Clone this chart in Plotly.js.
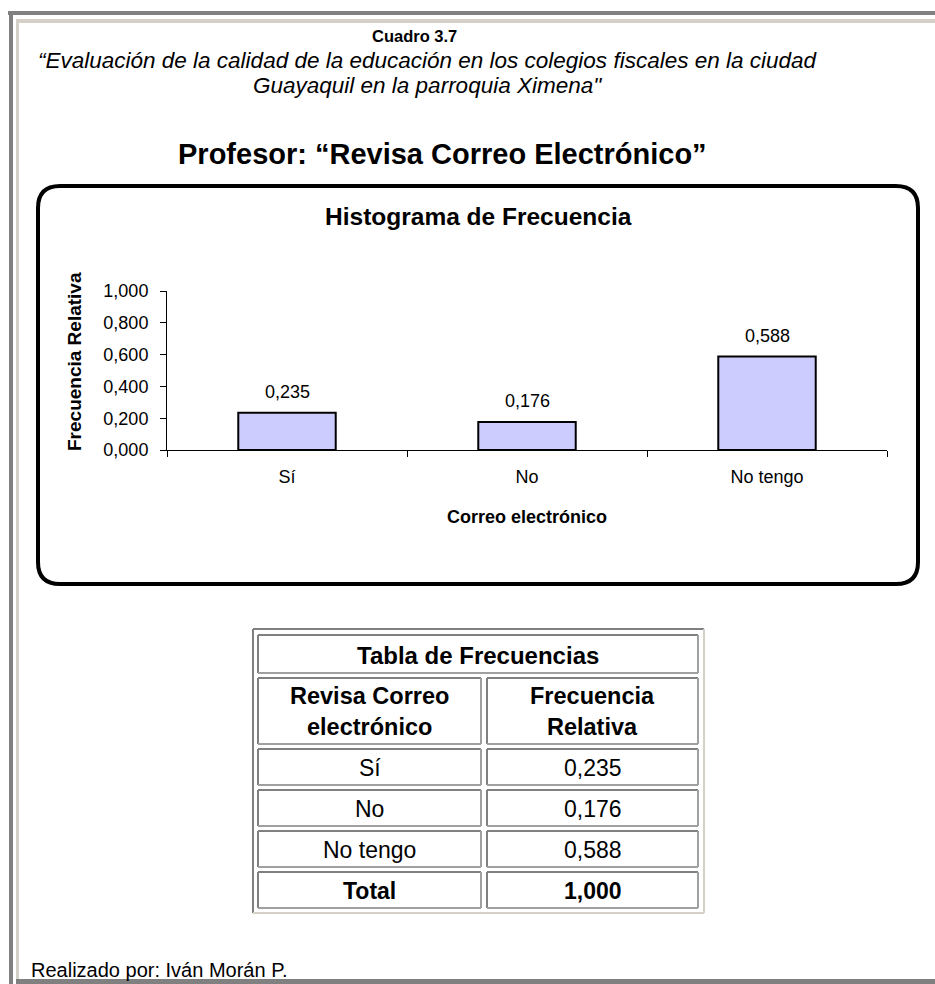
<!DOCTYPE html>
<html>
<head>
<meta charset="utf-8">
<script src="https://cdn.plot.ly/plotly-3.0.1.min.js"></script>
<style>
  html, body { margin: 0; padding: 0; background: #ffffff; }
  #chart { width: 935px; height: 984px; }
</style>
</head>
<body>
<div id="chart"></div>
<script>
// ---- Data ----
const categories = ["Sí", "No", "No tengo"];
const relFreq = [0.235, 0.176, 0.588];
const yTickValues = [0, 0.2, 0.4, 0.6, 0.8, 1.0];
const tableTitle = "Tabla de Frecuencias";
const tableHeaders = ["Revisa Correo<br>electrónico", "Frecuencia<br>Relativa"];
const totalLabel = "Total";
const totalValue = 1.000;
const cuadroTitle = "Cuadro 3.7";
const subtitleLines = ["“Evaluación de la calidad de la educación en los colegios fiscales en la ciudad",
                       "Guayaquil en la parroquia Ximena\""];
const mainTitle = "Profesor: “Revisa Correo Electrónico”";
const chartTitle = "Histograma de Frecuencia";
const xTitle = "Correo electrónico";
const yTitle = "Frecuencia Relativa";
const footer = "Realizado por: Iván Morán P.";

// ---- helpers (pixel -> paper) ----
const W = 935, H = 984;
const X = v => v / W;
const Y = v => 1 - v / H;
const FONT = "Liberation Sans, Arial, Helvetica, sans-serif";
const fmt = v => v.toFixed(3).replace(".", ",");

function rectPx(x0, y0, x1, y1, fill, line, lw) {
  return { type: "rect", xref: "paper", yref: "paper", layer: "below",
    x0: X(x0), x1: X(x1), y0: Y(y1), y1: Y(y0),
    fillcolor: fill || "rgba(0,0,0,0)",
    line: { color: line || "rgba(0,0,0,0)", width: lw || 0 } };
}
function linePx(x0, y0, x1, y1, color, lw) {
  return { type: "line", xref: "paper", yref: "paper", layer: "above",
    x0: X(x0), x1: X(x1), y0: Y(y0), y1: Y(y1),
    line: { color: color, width: lw } };
}
function roundedPath(x0, y0, x1, y1, r) {
  const p = (x, y) => X(x).toFixed(5) + "," + Y(y).toFixed(5);
  return "M" + p(x0 + r, y0) + " L" + p(x1 - r, y0) + " Q" + p(x1, y0) + " " + p(x1, y0 + r) +
    " L" + p(x1, y1 - r) + " Q" + p(x1, y1) + " " + p(x1 - r, y1) +
    " L" + p(x0 + r, y1) + " Q" + p(x0, y1) + " " + p(x0, y1 - r) +
    " L" + p(x0, y0 + r) + " Q" + p(x0, y0) + " " + p(x0 + r, y0) + " Z";
}
function textPx(x, y, text, size, opts) {
  return Object.assign({ xref: "paper", yref: "paper", x: X(x), y: Y(y),
    xanchor: "center", yanchor: "middle", showarrow: false, text: text,
    font: { family: FONT, size: size, color: "#000" } }, opts || {});
}

const shapes = [];
const annotations = [];

// page frame
shapes.push(rectPx(8, 11, 935, 15, "#808080"));
shapes.push(rectPx(9, 11, 13, 984, "#808080"));
shapes.push(rectPx(16, 19, 935, 23, "#d4d0c8"));
shapes.push(rectPx(16, 19, 19, 979, "#d4d0c8"));
shapes.push(rectPx(16, 979, 935, 984, "#808080"));

// chart rounded box
shapes.push({ type: "path", xref: "paper", yref: "paper", layer: "below",
  path: roundedPath(38, 186, 918, 584, 22), fillcolor: "#ffffff",
  line: { color: "#000", width: 4 } });

// titles
annotations.push(textPx(414, 36, "<b>" + cuadroTitle + "</b>", 16.5));
annotations.push(textPx(427, 60, "<i>" + subtitleLines[0] + "</i>", 22.5));
annotations.push(textPx(427, 85, "<i>" + subtitleLines[1] + "</i>", 22.5));
annotations.push(textPx(442, 154, "<b>" + mainTitle + "</b>", 29));
annotations.push(textPx(478, 217, "<b>" + chartTitle + "</b>", 24.5));
annotations.push(textPx(74, 362, "<b>" + yTitle + "</b>", 19, { textangle: -90 }));
annotations.push(textPx(527, 517, "<b>" + xTitle + "</b>", 18));
annotations.push(textPx(29, 970, footer, 20, { xanchor: "left" }));

// value labels above bars
categories.forEach((c, i) => {
  annotations.push({ xref: "x", yref: "y", x: c, y: relFreq[i], yshift: 21,
    yanchor: "middle", showarrow: false, text: fmt(relFreq[i]),
    font: { family: FONT, size: 18, color: "#000" } });
});

// ---- frequency table ----
const tL = 253, tR = 704, tT = 629, tB = 913;
shapes.push(rectPx(tL, tT, tR, tB, "#ffffff"));
shapes.push(linePx(tL, tT, tR, tT, "#808080", 2));
shapes.push(linePx(tL, tT, tL, tB, "#808080", 2));
shapes.push(linePx(tR, tT, tR, tB, "#d4d0c8", 2));
shapes.push(linePx(tL, tB, tR, tB, "#d4d0c8", 2));
function cell(x0, y0, x1, y1) {
  shapes.push(linePx(x0, y0, x1, y0, "#808080", 2));
  shapes.push(linePx(x0, y0, x0, y1, "#808080", 2));
  shapes.push(linePx(x1, y0, x1, y1, "#a0a0a0", 2));
  shapes.push(linePx(x0, y1, x1, y1, "#a0a0a0", 2));
}
const c1L = 258, c1R = 481, c2L = 487, c2R = 698;
cell(c1L, 635, c2R, 673);
annotations.push(textPx((c1L + c2R) / 2, 655, "<b>" + tableTitle + "</b>", 24));
cell(c1L, 678, c1R, 744); cell(c2L, 678, c2R, 744);
annotations.push(textPx((c1L + c1R) / 2, 711, "<b>" + tableHeaders[0] + "</b>", 23.5));
annotations.push(textPx((c2L + c2R) / 2, 711, "<b>" + tableHeaders[1] + "</b>", 23.5));
const rowLabels = categories.concat(["<b>" + totalLabel + "</b>"]);
const rowValues = relFreq.map(fmt).concat(["<b>" + fmt(totalValue) + "</b>"]);
rowLabels.forEach((lab, i) => {
  const y0 = 749 + i * 41, y1 = y0 + 36;
  cell(c1L, y0, c1R, y1); cell(c2L, y0, c2R, y1);
  annotations.push(textPx((c1L + c1R) / 2, (y0 + y1) / 2 + 1, lab, 23));
  annotations.push(textPx((c2L + c2R) / 2, (y0 + y1) / 2 + 1, rowValues[i], 23));
});

// ---- bar trace ----
const trace = {
  type: "bar", x: categories, y: relFreq,
  marker: { color: "#ccccff", line: { color: "#000", width: 2 } },
  hoverinfo: "x+y"
};

const layout = {
  width: W, height: H,
  margin: { l: 0, r: 0, t: 0, b: 0 },
  paper_bgcolor: "#ffffff", plot_bgcolor: "rgba(0,0,0,0)",
  showlegend: false,
  separators: ",.",
  bargap: 0.594,
  font: { family: FONT, size: 18, color: "#000" },
  xaxis: {
    type: "category", domain: [X(167), X(887)],
    showline: true, linecolor: "#000", linewidth: 1,
    ticks: "outside", ticklen: 6, tickcolor: "#000", tickson: "boundaries",
    ticklabelstandoff: 10,
    tickfont: { family: FONT, size: 18, color: "#000" },
    showgrid: false, zeroline: false, fixedrange: true
  },
  yaxis: {
    domain: [Y(450), Y(291)], range: [0, 1],
    tickvals: yTickValues, tickformat: ".3f",
    showline: true, linecolor: "#000", linewidth: 1,
    ticks: "outside", ticklen: 6, tickcolor: "#000",
    ticklabelstandoff: 8,
    tickfont: { family: FONT, size: 18, color: "#000" },
    showgrid: false, zeroline: false, fixedrange: true
  },
  shapes: shapes,
  annotations: annotations
};

Plotly.newPlot("chart", [trace], layout, { displayModeBar: false, staticPlot: true });
</script>
</body>
</html>
